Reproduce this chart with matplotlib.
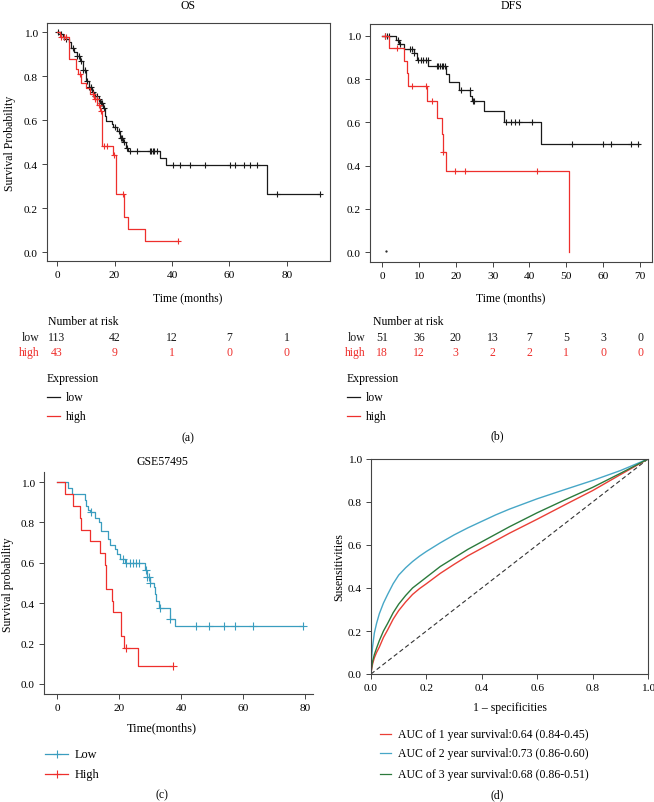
"""Four-panel survival / ROC figure: OS, DFS, GSE57495 KM curves + time-dependent ROC."""
import matplotlib
matplotlib.use("Agg")
import matplotlib.pyplot as plt
import matplotlib.transforms as mtrans
import numpy as np

plt.rcParams["font.family"] = ["Liberation Serif", "DejaVu Serif"]
plt.rcParams["font.size"] = 8.5

BLACK = "#1a1a1a"
RED = "#ee2f2c"
TEAL = "#3a9dbf"
ROC_RED = "#ea3f36"
ROC_BLUE = "#47a7c7"
ROC_GREEN = "#2c7a3c"
SPINE = "#444444"

# ---- (a) OS --------------------------------------------------------------
os_low_t = [1, 2, 3, 4, 5, 6, 7, 8, 9, 10, 11, 12, 13, 14, 15, 16, 16.6, 17.2,
            19, 19.5, 21, 21.9, 23, 24, 24.8, 35.8, 37.8, 73]
os_low_s = [0.99, 0.98, 0.97, 0.955, 0.93, 0.91, 0.89, 0.87, 0.83, 0.78, 0.75,
            0.73, 0.71, 0.695, 0.68, 0.655, 0.62, 0.595, 0.585, 0.57, 0.55,
            0.52, 0.50, 0.475, 0.46, 0.43, 0.395, 0.265]
os_low_end = 91.6
os_low_cens = [0.3, 1.2, 2.5, 3.2, 5.5, 7, 7.8, 8.5, 9.2, 9.6, 10.3, 11.2, 11.8,
               12.5, 13.2, 13.8, 14.5, 15.2, 15.6, 16.2, 20.2, 21.4, 22.3, 22.7,
               23.4, 24.2, 25.5, 27.8, 32.3, 32.8, 33.3, 33.8, 34.7, 40.5, 42.8,
               46.3, 51.5, 60.2, 62, 64.9, 67.2, 69.5, 76.5, 91.6]
os_high_t = [0.9, 4.1, 6.5, 7.2, 8.5, 10, 11.4, 13, 14, 14.9, 15.7, 19.5, 20.5,
             23.4, 24.8, 30.6]
os_high_s = [0.977, 0.88, 0.835, 0.81, 0.77, 0.745, 0.72, 0.695, 0.67, 0.64,
             0.485, 0.444, 0.265, 0.159, 0.106, 0.053]
os_high_end = 42.2
os_high_cens = [1.5, 2.5, 3.2, 8, 12.5, 13.2, 13.8, 14.5, 15.2, 16.5, 17.5,
                19.8, 23, 42.2]
os_risk_t = [0, 20, 40, 60, 80]
os_risk_low = [113, 42, 12, 7, 1]
os_risk_high = [43, 9, 1, 0, 0]

# ---- (b) DFS -------------------------------------------------------------
dfs_low_t = [3.8, 4.5, 6, 8.8, 9.5, 12.6, 17.4, 18.3, 21, 23.9, 24.5, 27.8,
             33.2, 43.2]
dfs_low_s = [0.98, 0.96, 0.94, 0.92, 0.888, 0.86, 0.823, 0.785, 0.749, 0.72,
             0.70, 0.651, 0.60, 0.50]
dfs_low_end = 69.8
dfs_low_cens = [0.8, 1.3, 2, 4.3, 5, 7.6, 8.2, 8.8, 9.8, 10.5, 11.2, 11.8, 12.4,
                14.8, 15.3, 15.8, 16.2, 16.6, 17.2, 21.3, 23.8, 24.6, 24.9, 33.7,
                35, 36, 37.2, 40.8, 51.5, 60, 62, 67.5, 69.5]
dfs_high_t = [2, 6, 6.8, 7.1, 12.2, 14.9, 16.3, 16.5, 17.4, 50.8]
dfs_high_s = [0.945, 0.885, 0.83, 0.77, 0.697, 0.62, 0.545, 0.465, 0.374, 0.0]
dfs_high_end = 50.8
dfs_high_cens = [0.9, 4.2, 8, 11.9, 13.5, 16.6, 19.7, 22.6, 42]
dfs_risk_t = [0, 10, 20, 30, 40, 50, 60, 70]
dfs_risk_low = [51, 36, 20, 13, 7, 5, 3, 0]
dfs_risk_high = [18, 12, 3, 2, 2, 1, 0, 0]

# ---- (c) GSE57495 --------------------------------------------------------
gse_low_t = [3.5, 4.8, 9, 9.5, 10, 10.5, 12.4, 13.6, 14.3, 16.5, 17, 18.6,
             19.5, 20.2, 21.9, 28.5, 29, 30, 31.2, 31.6, 32.1, 32.8, 36.4, 38]
gse_low_s = [0.97, 0.94, 0.91, 0.88, 0.863, 0.85, 0.82, 0.80, 0.76, 0.72, 0.69,
             0.67, 0.645, 0.62, 0.60, 0.562, 0.53, 0.50, 0.48, 0.446, 0.413,
             0.377, 0.32, 0.286]
gse_low_end = 79.5
gse_low_cens = [11, 21.4, 22.4, 23.4, 24.4, 25.4, 26.4, 28.6, 29.1, 29.6, 30.1,
                33.2, 36.5, 45, 49, 53.8, 57.4, 63.3, 79.3]
gse_high_t = [2.7, 5.2, 7.3, 7.9, 10.5, 13.8, 15.5, 15.9, 17.9, 18.2, 20.5,
              21.5, 26.2]
gse_high_s = [0.942, 0.88, 0.82, 0.765, 0.706, 0.65, 0.59, 0.468, 0.41, 0.355,
              0.236, 0.177, 0.088]
gse_high_end = 37.5
gse_high_cens = [22.2, 37.5]

# ---- (d) ROC -------------------------------------------------------------
fpr = [0, 0.001, 0.003, 0.006, 0.012, 0.02, 0.03, 0.045, 0.06, 0.08, 0.1,
       0.125, 0.15, 0.175, 0.2, 0.25, 0.3, 0.35, 0.4, 0.45, 0.5, 0.6, 0.7,
       0.8, 0.9, 1.0]
tpr_1y = [0, 0.012, 0.028, 0.048, 0.075, 0.10, 0.125, 0.17, 0.205, 0.255,
          0.295, 0.335, 0.37, 0.397, 0.42, 0.468, 0.51, 0.55, 0.585, 0.62,
          0.655, 0.72, 0.787, 0.853, 0.927, 1.0]
tpr_2y = [0, 0.05, 0.09, 0.13, 0.19, 0.235, 0.28, 0.33, 0.37, 0.42, 0.46,
          0.494, 0.523, 0.548, 0.57, 0.61, 0.647, 0.68, 0.71, 0.74, 0.767,
          0.815, 0.858, 0.90, 0.946, 1.0]
tpr_3y = [0, 0.015, 0.035, 0.06, 0.09, 0.12, 0.155, 0.20, 0.235, 0.285, 0.325,
          0.365, 0.40, 0.425, 0.45, 0.50, 0.54, 0.58, 0.615, 0.65, 0.685,
          0.75, 0.81, 0.868, 0.933, 1.0]
roc_labels = ["AUC of 1 year survival:0.64 (0.84-0.45)",
              "AUC of 2 year survival:0.73 (0.86-0.60)",
              "AUC of 3 year survival:0.68 (0.86-0.51)"]

W, H = 654, 803
fig = plt.figure(figsize=(W / 100, H / 100), dpi=100)

# overlay in pixel coordinates for free-standing text
ov = fig.add_axes([0, 0, 1, 1], zorder=-1)
ov.set_xlim(0, W)
ov.set_ylim(H, 0)
ov.axis("off")


def px_axes(left, top, right, bottom):
    return fig.add_axes([left / W, 1 - bottom / H, (right - left) / W,
                         (bottom - top) / H])


def style(ax, box=True):
    for sp in ax.spines.values():
        sp.set_color(SPINE)
        sp.set_linewidth(0.8)
    if not box:
        ax.spines["top"].set_visible(False)
        ax.spines["right"].set_visible(False)
    ax.tick_params(direction="out", length=3.5, width=0.7, color=SPINE,
                   labelsize=8.2, pad=3)


def km(ax, times, surv, end, cens, color, lw=0.9, ms=5):
    t = np.r_[0, times, end]
    s = np.r_[1.0, surv, surv[-1]]
    ax.step(t, s, where="post", color=color, lw=lw)
    idx = np.searchsorted(times, cens, side="right")
    ax.plot(cens, np.r_[1.0, surv][idx], ls="none", marker="+", ms=ms,
            mew=0.8, color=color)


def risk_table(ax, times, low, high, label_x, y_low, y_high):
    tr = mtrans.blended_transform_factory(ax.transData, ov.transData)
    for t, a, b in zip(times, low, high):
        ax.text(t, y_low, str(a), transform=tr, ha="center", va="center",
                color=BLACK, clip_on=False)
        ax.text(t, y_high, str(b), transform=tr, ha="center", va="center",
                color=RED, clip_on=False)
    ov.text(label_x, y_low, "low", ha="right", va="center", color=BLACK)
    ov.text(label_x, y_high, "high", ha="right", va="center", color=RED)


# ---- panel a ----
ax = px_axes(47, 24, 330, 262)
style(ax)
km(ax, os_low_t, os_low_s, os_low_end, os_low_cens, BLACK)
km(ax, os_high_t, os_high_s, os_high_end, os_high_cens, RED)
ax.set_xlim(-3.5, 95)
ax.set_ylim(-0.04, 1.042)
ax.set_xticks([0, 20, 40, 60, 80])
ax.set_yticks(np.arange(0, 1.01, 0.2))
ax.yaxis.set_major_formatter(plt.FormatStrFormatter("%.1f"))
ov.text(188, 6, "OS", ha="center", va="center")
ov.text(191, 38, "HR = 1.89 (1.18 \u2013 3.01)", ha="left", va="center")
ov.text(217, 53, "logrank P = 0.0069", ha="left", va="center")
ov.text(10, 143, "Survival Probability", rotation=90, ha="center", va="center")
ov.text(188, 298, "Time (months)", ha="center", va="center")
ov.text(48, 322, "Number at risk", ha="left", va="center")
risk_table(ax, os_risk_t, os_risk_low, os_risk_high, 40, 338, 353)

# ---- panel b ----
bx = px_axes(370, 25, 652, 263)
style(bx)
km(bx, dfs_low_t, dfs_low_s, dfs_low_end, dfs_low_cens, BLACK)
km(bx, dfs_high_t, dfs_high_s, dfs_high_end, dfs_high_cens, RED)
bx.plot([1.0], [0.004], ls="none", marker=".", ms=1.2, color=BLACK)
bx.set_xlim(-3.26, 73.25)
bx.set_ylim(-0.045, 1.054)
bx.set_xticks(dfs_risk_t)
bx.set_yticks(np.arange(0, 1.01, 0.2))
bx.yaxis.set_major_formatter(plt.FormatStrFormatter("%.1f"))
ov.text(511, 6, "DFS", ha="center", va="center")
ov.text(513, 42, "HR = 2.97 (1.29 \u2013 6.86)", ha="left", va="center")
ov.text(539, 57, "logrank P = 0.0075", ha="left", va="center")
ov.text(511, 298, "Time (months)", ha="center", va="center")
ov.text(373, 322, "Number at risk", ha="left", va="center")
risk_table(bx, dfs_risk_t, dfs_risk_low, dfs_risk_high, 366, 338, 353)

# expression legends for a and b
for x0 in (47, 347):
    ov.text(x0, 379, "Expression", ha="left", va="center")
    ov.plot([x0, x0 + 13], [398, 398], color=BLACK, lw=0.9)
    ov.plot([x0, x0 + 13], [417, 417], color=RED, lw=0.9)
    ov.text(x0 + 19, 398, "low", ha="left", va="center")
    ov.text(x0 + 19, 417, "high", ha="left", va="center")
ov.text(188, 438, "(a)", ha="center", va="center")
ov.text(497, 436, "(b)", ha="center", va="center")

# ---- panel c ----
cx = px_axes(44, 473, 313, 695)
style(cx, box=False)
km(cx, gse_low_t, gse_low_s, gse_low_end, gse_low_cens, TEAL, ms=6)
km(cx, gse_high_t, gse_high_s, gse_high_end, gse_high_cens, RED, ms=6)
cx.set_xlim(-4.2, 82.6)
cx.set_ylim(-0.05, 1.05)
cx.set_xticks([0, 20, 40, 60, 80])
cx.set_yticks(np.arange(0, 1.01, 0.2))
cx.yaxis.set_major_formatter(plt.FormatStrFormatter("%.1f"))
ov.text(162, 462, "GSE57495", ha="center", va="center")
ov.text(190, 500, "HR = 2.44 (1.12\u20135.31)", ha="left", va="center",
        fontsize=8.8)
ov.text(190, 514, "Log\u2212rank P = 0.004", ha="left", va="center",
        fontsize=8.8)
ov.text(8, 585, "Survival probability", rotation=90, ha="center", va="center")
ov.text(162, 728, "Time(months)", ha="center", va="center", fontsize=8.8)
for y, c, lab in ((755, TEAL, "Low"), (775, RED, "High")):
    ov.plot([45, 68], [y, y], color=c, lw=0.9)
    ov.plot([56.5], [y], marker="+", ms=6, mew=0.8, color=c)
    ov.text(75, y, lab, ha="left", va="center", fontsize=8.8)
ov.text(162, 795, "(c)", ha="center", va="center")

# ---- panel d ----
dx = px_axes(371, 460, 648, 675)
style(dx)
dx.plot([0, 1], [0, 1], color="#333333", lw=0.8, ls=(0, (4, 2.5)))
for tpr, c in zip((tpr_1y, tpr_2y, tpr_3y), (ROC_RED, ROC_BLUE, ROC_GREEN)):
    dx.plot(fpr, tpr, color=c, lw=1.0)
dx.set_xlim(0, 1)
dx.set_ylim(0, 1)
dx.set_xticks(np.arange(0, 1.01, 0.2))
dx.set_yticks(np.arange(0, 1.01, 0.2))
dx.xaxis.set_major_formatter(plt.FormatStrFormatter("%.1f"))
dx.yaxis.set_major_formatter(plt.FormatStrFormatter("%.1f"))
ov.text(339, 567, "Susensitivities", rotation=90, ha="center", va="center")
ov.text(510, 708, "1 \u2013 specificities", ha="center", va="center")
for y, c, lab in zip((735, 754, 775), (ROC_RED, ROC_BLUE, ROC_GREEN),
                     roc_labels):
    ov.plot([380, 391], [y, y], color=c, lw=0.9)
    ov.text(398, y, lab, ha="left", va="center")
ov.text(497, 795, "(d)", ha="center", va="center")

fig.savefig("out.png", dpi=100)
